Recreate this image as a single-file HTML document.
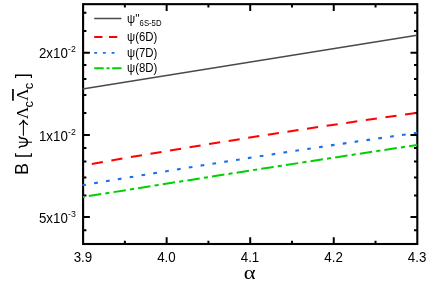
<!DOCTYPE html><html><head><meta charset="utf-8"><title>chart</title><style>html,body{margin:0;padding:0;background:#fff}svg{display:block;will-change:transform}text{font-family:"Liberation Sans",sans-serif;fill:#000}.se{font-family:"Liberation Serif",serif}</style></head><body>
<svg width="436" height="284" viewBox="0 0 436 284">
<rect width="436" height="284" fill="#fff"/>
<rect x="83.1" y="4.15" width="334.20" height="239.85" fill="none" stroke="#000" stroke-width="2.1"/>
<path d="M124.87 244.0V240.70M124.87 4.15V7.45M166.65 244.0V237.20M166.65 4.15V10.95M208.42 244.0V240.70M208.42 4.15V7.45M250.20 244.0V237.20M250.20 4.15V10.95M291.97 244.0V240.70M291.97 4.15V7.45M333.75 244.0V237.20M333.75 4.15V10.95M375.53 244.0V240.70M375.53 4.15V7.45M83.1 12.70H86.40M417.3 12.70H414.00M83.1 30.90H86.40M417.3 30.90H414.00M83.1 52.80H89.90M417.3 52.80H410.50M83.1 65.10H86.40M417.3 65.10H414.00M83.1 78.90H86.40M417.3 78.90H414.00M83.1 95.00H86.40M417.3 95.00H414.00M83.1 112.90H86.40M417.3 112.90H414.00M83.1 135.00H89.90M417.3 135.00H410.50M83.1 147.90H86.40M417.3 147.90H414.00M83.1 161.40H86.40M417.3 161.40H414.00M83.1 177.50H86.40M417.3 177.50H414.00M83.1 195.40H86.40M417.3 195.40H414.00M83.1 217.10H89.90M417.3 217.10H410.50M83.1 230.20H86.40M417.3 230.20H414.00" fill="none" stroke="#000" stroke-width="2"/>
<path d="M82.50 89.00Q250.25 61.45 417.00 35.30" fill="none" stroke="#4a4a4a" stroke-width="1.5"/>
<path d="M91.80 163.90Q253.90 135.35 416.00 113.00" fill="none" stroke="#ff0000" stroke-width="2" stroke-dasharray="11.2 8.62"/>
<path d="M82.30 185.30Q250.25 156.55 417.20 132.80" fill="none" stroke="#1870ec" stroke-width="2.1" stroke-dasharray="3.7 8.285"/>
<path d="M83.00 197.00Q250.00 170.20 417.00 145.00" fill="none" stroke="#00d000" stroke-width="2.0" stroke-dasharray="12.46 4.16 4.16 4.15" stroke-dashoffset="19"/>
<text transform="translate(82.90,261.60) scale(0.925,1)" font-size="14.4" text-anchor="middle">3.9</text>
<text transform="translate(166.45,261.60) scale(0.925,1)" font-size="14.4" text-anchor="middle">4.0</text>
<text transform="translate(250.00,261.60) scale(0.925,1)" font-size="14.4" text-anchor="middle">4.1</text>
<text transform="translate(333.55,261.60) scale(0.925,1)" font-size="14.4" text-anchor="middle">4.2</text>
<text transform="translate(417.10,261.60) scale(0.925,1)" font-size="14.4" text-anchor="middle">4.3</text>
<text transform="translate(67.80,58.40) scale(0.925,1)" font-size="14.4" text-anchor="end">2x10</text>
<text transform="translate(68.00,52.10) scale(0.925,1)" font-size="9.5" text-anchor="start">-2</text>
<text transform="translate(67.80,141.10) scale(0.925,1)" font-size="14.4" text-anchor="end">1x10</text>
<text transform="translate(68.00,134.70) scale(0.925,1)" font-size="9.5" text-anchor="start">-2</text>
<text transform="translate(67.80,223.20) scale(0.925,1)" font-size="14.4" text-anchor="end">5x10</text>
<text transform="translate(68.00,216.80) scale(0.925,1)" font-size="9.5" text-anchor="start">-3</text>
<text class="se" transform="translate(249.6,278.8) scale(1.15,1)" font-size="19.6" text-anchor="middle">α</text>
<text transform="translate(28.1,169.1) rotate(-90)" font-size="18" text-anchor="middle">B</text>
<text transform="translate(28.1,155.4) rotate(-90)" font-size="18" text-anchor="middle">[</text>
<path d="M18.9 142.2H32" stroke="#000" stroke-width="1.05" fill="none"/>
<path d="M19.1 136.3C19.4 137.5 20.1 138.05 21.5 138.15L24 138.4C26.3 138.7 27.3 140.2 27.3 142.2C27.3 144.2 26.3 145.7 24 146L21.5 146.25C20.1 146.35 19.4 146.9 19.1 148.1" stroke="#000" stroke-width="1.5" fill="none"/>
<text class="se" transform="translate(28.1,113.0) rotate(-90)" font-size="17.5" text-anchor="middle">Λ</text>
<text transform="translate(32.9,104.3) rotate(-90)" font-size="13" text-anchor="middle">c</text>
<text class="se" transform="translate(28.1,94.6) rotate(-90)" font-size="17.5" text-anchor="middle">Λ</text>
<text transform="translate(32.9,86.0) rotate(-90)" font-size="13" text-anchor="middle">c</text>
<text transform="translate(28.1,75.8) rotate(-90)" font-size="18" text-anchor="middle">]</text>
<path d="M23.4 135.7V120.2M19.1 124.8Q22.6 123 23.4 119.9Q24.2 123 28 124.8" stroke="#000" stroke-width="1.05" fill="none"/>
<path d="M12.95 89.0V100.8" stroke="#000" stroke-width="1.7" fill="none"/>
<path d="M94.2 18.5H121.4" stroke="#4a4a4a" stroke-width="1.5" fill="none"/>
<path d="M94.2 37H120" stroke="#ff0000" stroke-width="2" stroke-dasharray="8.3 6.5" fill="none"/>
<path d="M94.2 52.8H116" stroke="#1870ec" stroke-width="1.8" stroke-dasharray="2.9 5.8" fill="none"/>
<path d="M94.2 68.3H121.5" stroke="#00d000" stroke-width="1.9" stroke-dasharray="9.5 2.8 3.1 2.6" fill="none"/>
<text transform="translate(127.1,22.6) scale(0.92,1)" font-size="12.4">ψ''</text>
<text transform="translate(139.6,25.9) scale(0.92,1)" font-size="8.4">6S-5D</text>
<text transform="translate(127.1,41.15) scale(0.92,1)" font-size="12.4">ψ(6D)</text>
<text transform="translate(127.1,56.95) scale(0.92,1)" font-size="12.4">ψ(7D)</text>
<text transform="translate(127.1,72.05) scale(0.92,1)" font-size="12.4">ψ(8D)</text>
</svg></body></html>
